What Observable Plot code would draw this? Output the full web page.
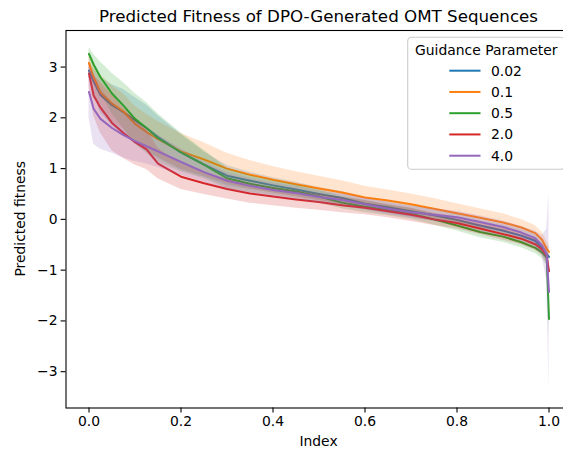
<!DOCTYPE html>
<html>
<head>
<meta charset="utf-8">
<script src="https://cdn.jsdelivr.net/npm/d3@7"></script>
<script src="https://cdn.jsdelivr.net/npm/@observablehq/plot@0.6"></script>
<style>
  html, body { margin: 0; padding: 0; background: white; }
  #chart svg { display: block; overflow: hidden; }
</style>
</head>
<body>
<div id="chart"></div>
<script>
// ---- data ----
const xs = [0, 0.01, 0.025, 0.05, 0.075, 0.1, 0.125, 0.15, 0.2, 0.25, 0.3, 0.35, 0.4, 0.45, 0.5, 0.55, 0.6, 0.65, 0.7, 0.75, 0.8, 0.85, 0.9, 0.94, 0.97, 0.985, 0.995, 1.0];

const guidance = ["0.02", "0.1", "0.5", "2.0", "4.0"];

const fit002 = [2.93,2.72,2.45,2.25,2.11,1.95,1.80,1.62,1.32,1.08,0.86,0.76,0.67,0.59,0.50,0.42,0.31,0.24,0.16,0.08,-0.01,-0.12,-0.22,-0.32,-0.42,-0.56,-0.68,-0.74];
const fit01  = [3.08,2.80,2.50,2.28,2.12,1.88,1.72,1.58,1.34,1.18,1.00,0.88,0.78,0.69,0.61,0.53,0.43,0.37,0.30,0.21,0.12,0.03,-0.06,-0.16,-0.27,-0.40,-0.58,-0.64];
const fit05  = [3.26,3.05,2.80,2.48,2.24,1.98,1.80,1.60,1.32,1.08,0.81,0.70,0.62,0.55,0.45,0.33,0.25,0.18,0.11,0.00,-0.12,-0.25,-0.34,-0.45,-0.56,-0.65,-0.75,-1.96];
const fit20  = [2.87,2.44,2.20,1.90,1.70,1.52,1.38,1.10,0.84,0.71,0.60,0.51,0.45,0.39,0.34,0.28,0.23,0.16,0.09,0.00,-0.07,-0.18,-0.29,-0.38,-0.49,-0.59,-0.72,-1.02];
const fit40  = [2.51,2.18,1.98,1.80,1.66,1.54,1.44,1.34,1.13,0.93,0.76,0.66,0.58,0.52,0.44,0.38,0.30,0.21,0.14,0.09,0.04,-0.05,-0.15,-0.26,-0.37,-0.52,-0.70,-1.43];

const sd002 = [0.15,0.25,0.35,0.40,0.45,0.45,0.45,0.42,0.35,0.25,0.20,0.17,0.15,0.14,0.13,0.13,0.12,0.12,0.12,0.12,0.12,0.12,0.12,0.12,0.12,0.12,0.15,0.20];
const sd01  = [0.20,0.30,0.35,0.35,0.35,0.35,0.35,0.35,0.35,0.33,0.30,0.28,0.26,0.25,0.24,0.23,0.22,0.21,0.20,0.20,0.19,0.18,0.17,0.16,0.15,0.15,0.15,0.15];
const sd05  = [0.12,0.20,0.30,0.40,0.45,0.50,0.50,0.48,0.38,0.28,0.20,0.17,0.15,0.14,0.13,0.12,0.12,0.11,0.11,0.11,0.11,0.11,0.11,0.11,0.11,0.12,0.15,0.30];
const sd20  = [0.25,0.40,0.50,0.55,0.50,0.45,0.40,0.30,0.25,0.22,0.20,0.19,0.18,0.17,0.16,0.15,0.14,0.13,0.13,0.12,0.12,0.12,0.12,0.12,0.12,0.12,0.15,0.30];
const sd40  = [0.50,0.70,0.60,0.50,0.45,0.40,0.35,0.32,0.26,0.20,0.17,0.15,0.14,0.13,0.12,0.12,0.12,0.12,0.12,0.12,0.12,0.12,0.12,0.12,0.14,0.20,0.50,1.95];

const xTicks = [0, 0.2, 0.4, 0.6, 0.8, 1.0];
const yTicks = [-3, -2, -1, 0, 1, 2, 3];
const colors = ["#1f77b4", "#ff7f0e", "#2ca02c", "#d62728", "#9467bd"];

const means = [fit002, fit01, fit05, fit20, fit40];
const sds = [sd002, sd01, sd05, sd20, sd40];

const tables = guidance.map((g, k) => xs.map((x, i) => ({
  g, x, y: means[k][i], lo: means[k][i] - sds[k][i], hi: means[k][i] + sds[k][i]
})));

const FONT = "DejaVu Sans";
const marks = [];
tables.forEach((t, k) => {
  marks.push(Plot.areaY(t, {x: "x", y1: "lo", y2: "hi", fill: colors[k], fillOpacity: 0.2}));
  marks.push(Plot.lineY(t, {x: "x", y: "y", stroke: colors[k], strokeWidth: 2}));
});
marks.push(Plot.frame({stroke: "black", strokeWidth: 1.1}));
marks.push(Plot.axisX({ticks: xTicks, tickFormat: d3.format(".1f"), tickSize: 4.9, tickPadding: 3.5, label: null, strokeWidth: 1.1}));
marks.push(Plot.axisY({ticks: yTicks, tickFormat: d => d < 0 ? "\u2212" + Math.abs(d) : String(d), tickSize: 4.9, tickPadding: 3.5, label: null, strokeWidth: 1.1}));

const chart = Plot.plot({
  width: 563,
  height: 452,
  marginLeft: 65.5,
  marginRight: -8.5,
  marginTop: 30,
  marginBottom: 44.5,
  x: {domain: [-0.05, 1.05]},
  y: {domain: [-3.715, 3.72]},
  style: {fontFamily: FONT, fontSize: "13.9px", background: "white", color: "black"},
  marks
});
document.getElementById("chart").appendChild(chart);

// ---- title, axis labels, legend ----
const svg = d3.select(chart);
const axCx = (65.5 + 571.5) / 2;
svg.append("text").attr("x", axCx).attr("y", 22).attr("text-anchor", "middle")
  .attr("font-family", FONT).attr("font-size", 16.7).attr("fill", "black")
  .text("Predicted Fitness of DPO-Generated OMT Sequences");
svg.append("text").attr("x", axCx).attr("y", 446).attr("text-anchor", "middle")
  .attr("font-family", FONT).attr("font-size", 13.9).attr("fill", "black")
  .text("Index");
svg.append("text").attr("transform", "translate(25,218.75) rotate(-90)").attr("text-anchor", "middle")
  .attr("font-family", FONT).attr("font-size", 13.9).attr("fill", "black")
  .text("Predicted fitness");

const lg = svg.append("g");
lg.append("rect").attr("x", 407.7).attr("y", 37.3).attr("width", 156.9).attr("height", 132)
  .attr("rx", 3.9).attr("fill", "white").attr("fill-opacity", 0.8)
  .attr("stroke", "#cccccc").attr("stroke-width", 1.1);
lg.append("text").attr("x", 486.2).attr("y", 55).attr("text-anchor", "middle")
  .attr("font-family", FONT).attr("font-size", 13.9).attr("fill", "black")
  .text("Guidance Parameter");
guidance.forEach((g, k) => {
  const yy = 70.7 + k * 21.25;
  lg.append("line").attr("x1", 449.3).attr("x2", 480.5).attr("y1", yy).attr("y2", yy)
    .attr("stroke", colors[k]).attr("stroke-width", 2);
  lg.append("text").attr("x", 491).attr("y", yy).attr("dy", "0.36em")
    .attr("text-anchor", "start")
    .attr("font-family", FONT).attr("font-size", 13.9).attr("fill", "black")
    .text(g);
});
</script>
</body>
</html>
